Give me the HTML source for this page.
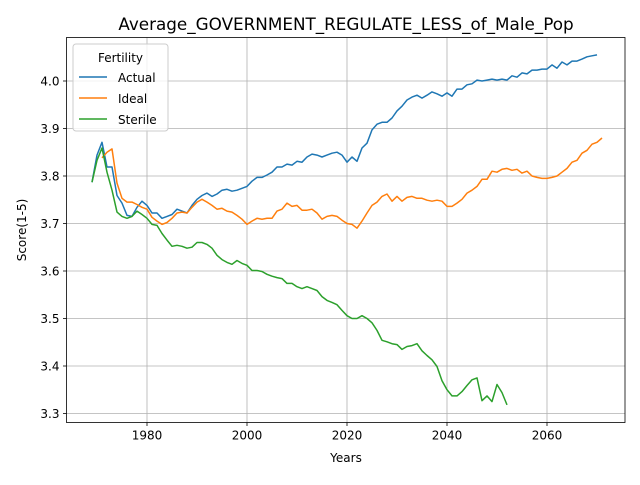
<!DOCTYPE html>
<html><head><meta charset="utf-8"><style>
body{margin:0;background:#fff;font-family:"Liberation Sans","DejaVu Sans",sans-serif}
svg text{font-family:"DejaVu Sans","Liberation Sans",sans-serif}
</style></head><body>
<svg id="chart" width="640" height="480" xmlns="http://www.w3.org/2000/svg">
<rect width="640" height="480" fill="#fff"/>
<g id="grid"></g><g id="series"></g><g id="axes"></g>
<text x="346" y="30" font-size="16.8" text-anchor="middle">Average_GOVERNMENT_REGULATE_LESS_of_Male_Pop</text>
<text x="346" y="462" font-size="12" text-anchor="middle">Years</text>
<text transform="translate(26,230) rotate(-90)" font-size="12" text-anchor="middle">Score(1-5)</text>
<g>
<rect x="73" y="44" width="95" height="87" rx="3" fill="#fff" fill-opacity="0.8" stroke="#ccc"/>
<text x="120.5" y="62" font-size="12" text-anchor="middle">Fertility</text>
<g><line x1="79" y1="77" x2="107" y2="77" stroke="#1f77b4" stroke-width="1.5"/><text x="118" y="82" font-size="12">Actual</text></g>
<g><line x1="79" y1="98" x2="107" y2="98" stroke="#ff7f0e" stroke-width="1.5"/><text x="118" y="103" font-size="12">Ideal</text></g>
<g><line x1="79" y1="119" x2="107" y2="119" stroke="#2ca02c" stroke-width="1.5"/><text x="118" y="124" font-size="12">Sterile</text></g>
</g>
</svg>
<script>
const actualStart = 1969;
const actualValues = [3.787,3.844,3.871,3.819,3.819,3.759,3.743,3.717,3.715,3.734,3.747,3.738,3.722,3.722,3.711,3.715,3.719,3.730,3.726,3.722,3.738,3.751,3.759,3.764,3.757,3.762,3.770,3.772,3.768,3.770,3.774,3.778,3.789,3.797,3.797,3.802,3.808,3.819,3.819,3.825,3.823,3.831,3.829,3.840,3.846,3.844,3.840,3.844,3.848,3.850,3.844,3.829,3.840,3.831,3.859,3.869,3.897,3.909,3.913,3.913,3.922,3.937,3.947,3.960,3.966,3.970,3.964,3.970,3.977,3.973,3.968,3.975,3.968,3.983,3.983,3.992,3.994,4.002,4.000,4.002,4.004,4.002,4.004,4.002,4.011,4.008,4.017,4.015,4.023,4.023,4.025,4.025,4.034,4.027,4.040,4.034,4.042,4.042,4.046,4.051,4.053,4.055];
const idealStart = 1971;
const idealValues = [3.838,3.850,3.857,3.785,3.753,3.745,3.745,3.740,3.734,3.730,3.713,3.705,3.698,3.702,3.711,3.722,3.724,3.722,3.734,3.745,3.751,3.745,3.738,3.730,3.732,3.726,3.724,3.717,3.709,3.698,3.705,3.711,3.709,3.711,3.711,3.726,3.730,3.743,3.736,3.738,3.728,3.728,3.730,3.722,3.709,3.715,3.717,3.715,3.707,3.700,3.698,3.690,3.705,3.722,3.738,3.745,3.757,3.762,3.747,3.757,3.747,3.755,3.757,3.753,3.753,3.749,3.747,3.749,3.747,3.736,3.736,3.743,3.751,3.764,3.770,3.778,3.793,3.793,3.810,3.808,3.814,3.816,3.812,3.814,3.806,3.810,3.800,3.797,3.795,3.795,3.797,3.800,3.808,3.816,3.829,3.833,3.848,3.854,3.867,3.871,3.880];
const sterileStart = 1969;
const sterileValues = [3.787,3.833,3.859,3.808,3.770,3.724,3.715,3.711,3.715,3.726,3.719,3.711,3.698,3.696,3.679,3.665,3.652,3.654,3.652,3.648,3.650,3.660,3.660,3.656,3.648,3.633,3.624,3.618,3.614,3.622,3.616,3.612,3.601,3.601,3.599,3.593,3.589,3.586,3.584,3.574,3.574,3.567,3.563,3.567,3.563,3.559,3.546,3.538,3.534,3.529,3.517,3.506,3.500,3.500,3.506,3.500,3.491,3.475,3.454,3.451,3.447,3.445,3.435,3.441,3.443,3.447,3.432,3.422,3.413,3.399,3.369,3.350,3.337,3.337,3.346,3.359,3.371,3.375,3.327,3.337,3.325,3.361,3.344,3.318];
const xTicks = [1980,2000,2020,2040,2060];
const yTicks = [3.3,3.4,3.5,3.6,3.7,3.8,3.9,4.0];

const L=66.5,R=625,T=37.5,B=422.5;
const x = yr => 147 + (yr-1980)*5;
const y = v => 413.5 - (v-3.3)*475;
const NS="http://www.w3.org/2000/svg";
function mk(tag, attrs, parent){const e=document.createElementNS(NS,tag);for(const k in attrs)e.setAttribute(k,attrs[k]);parent.appendChild(e);return e;}
const grid=document.getElementById('grid'), axes=document.getElementById('axes'), series=document.getElementById('series');
xTicks.forEach(t=>{
  const g=mk('line',{x1:x(t),x2:x(t),y1:T,y2:B,stroke:'#b0b0b0','stroke-width':0.8},grid);
  
  
  mk('line',{x1:x(t),x2:x(t),y1:B,y2:B+3.5,stroke:'#000','stroke-width':0.8},axes);
  const tx=mk('text',{x:x(t),y:B+17,'font-size':12,'text-anchor':'middle'},axes);
  tx.textContent=t;
  
  
});
yTicks.forEach(t=>{
  const g=mk('line',{x1:L,x2:R,y1:y(t),y2:y(t),stroke:'#b0b0b0','stroke-width':0.8},grid);
  
  
  mk('line',{x1:L-3.5,x2:L,y1:y(t),y2:y(t),stroke:'#000','stroke-width':0.8},axes);
  const tx=mk('text',{x:L-7,y:y(t)+4.5,'font-size':12,'text-anchor':'end'},axes);
  tx.textContent=t.toFixed(1);
  
  
});
const frame=mk('rect',{x:L,y:T,width:R-L,height:B-T,fill:'none',stroke:'#000','stroke-width':0.8},axes);


function line(start, vals, color, name){
  const d=vals.map((v,i)=>(i?'L':'M')+x(start+i).toFixed(1)+','+y(v).toFixed(1)).join(' ');
  const p=mk('path',{d:d,fill:'none',stroke:color,'stroke-width':1.5,'stroke-linejoin':'round'},series);
  
  
}
line(actualStart,actualValues,'#1f77b4','actual-line');
line(idealStart,idealValues,'#ff7f0e','ideal-line');
line(sterileStart,sterileValues,'#2ca02c','sterile-line');
</script>
</body></html>
